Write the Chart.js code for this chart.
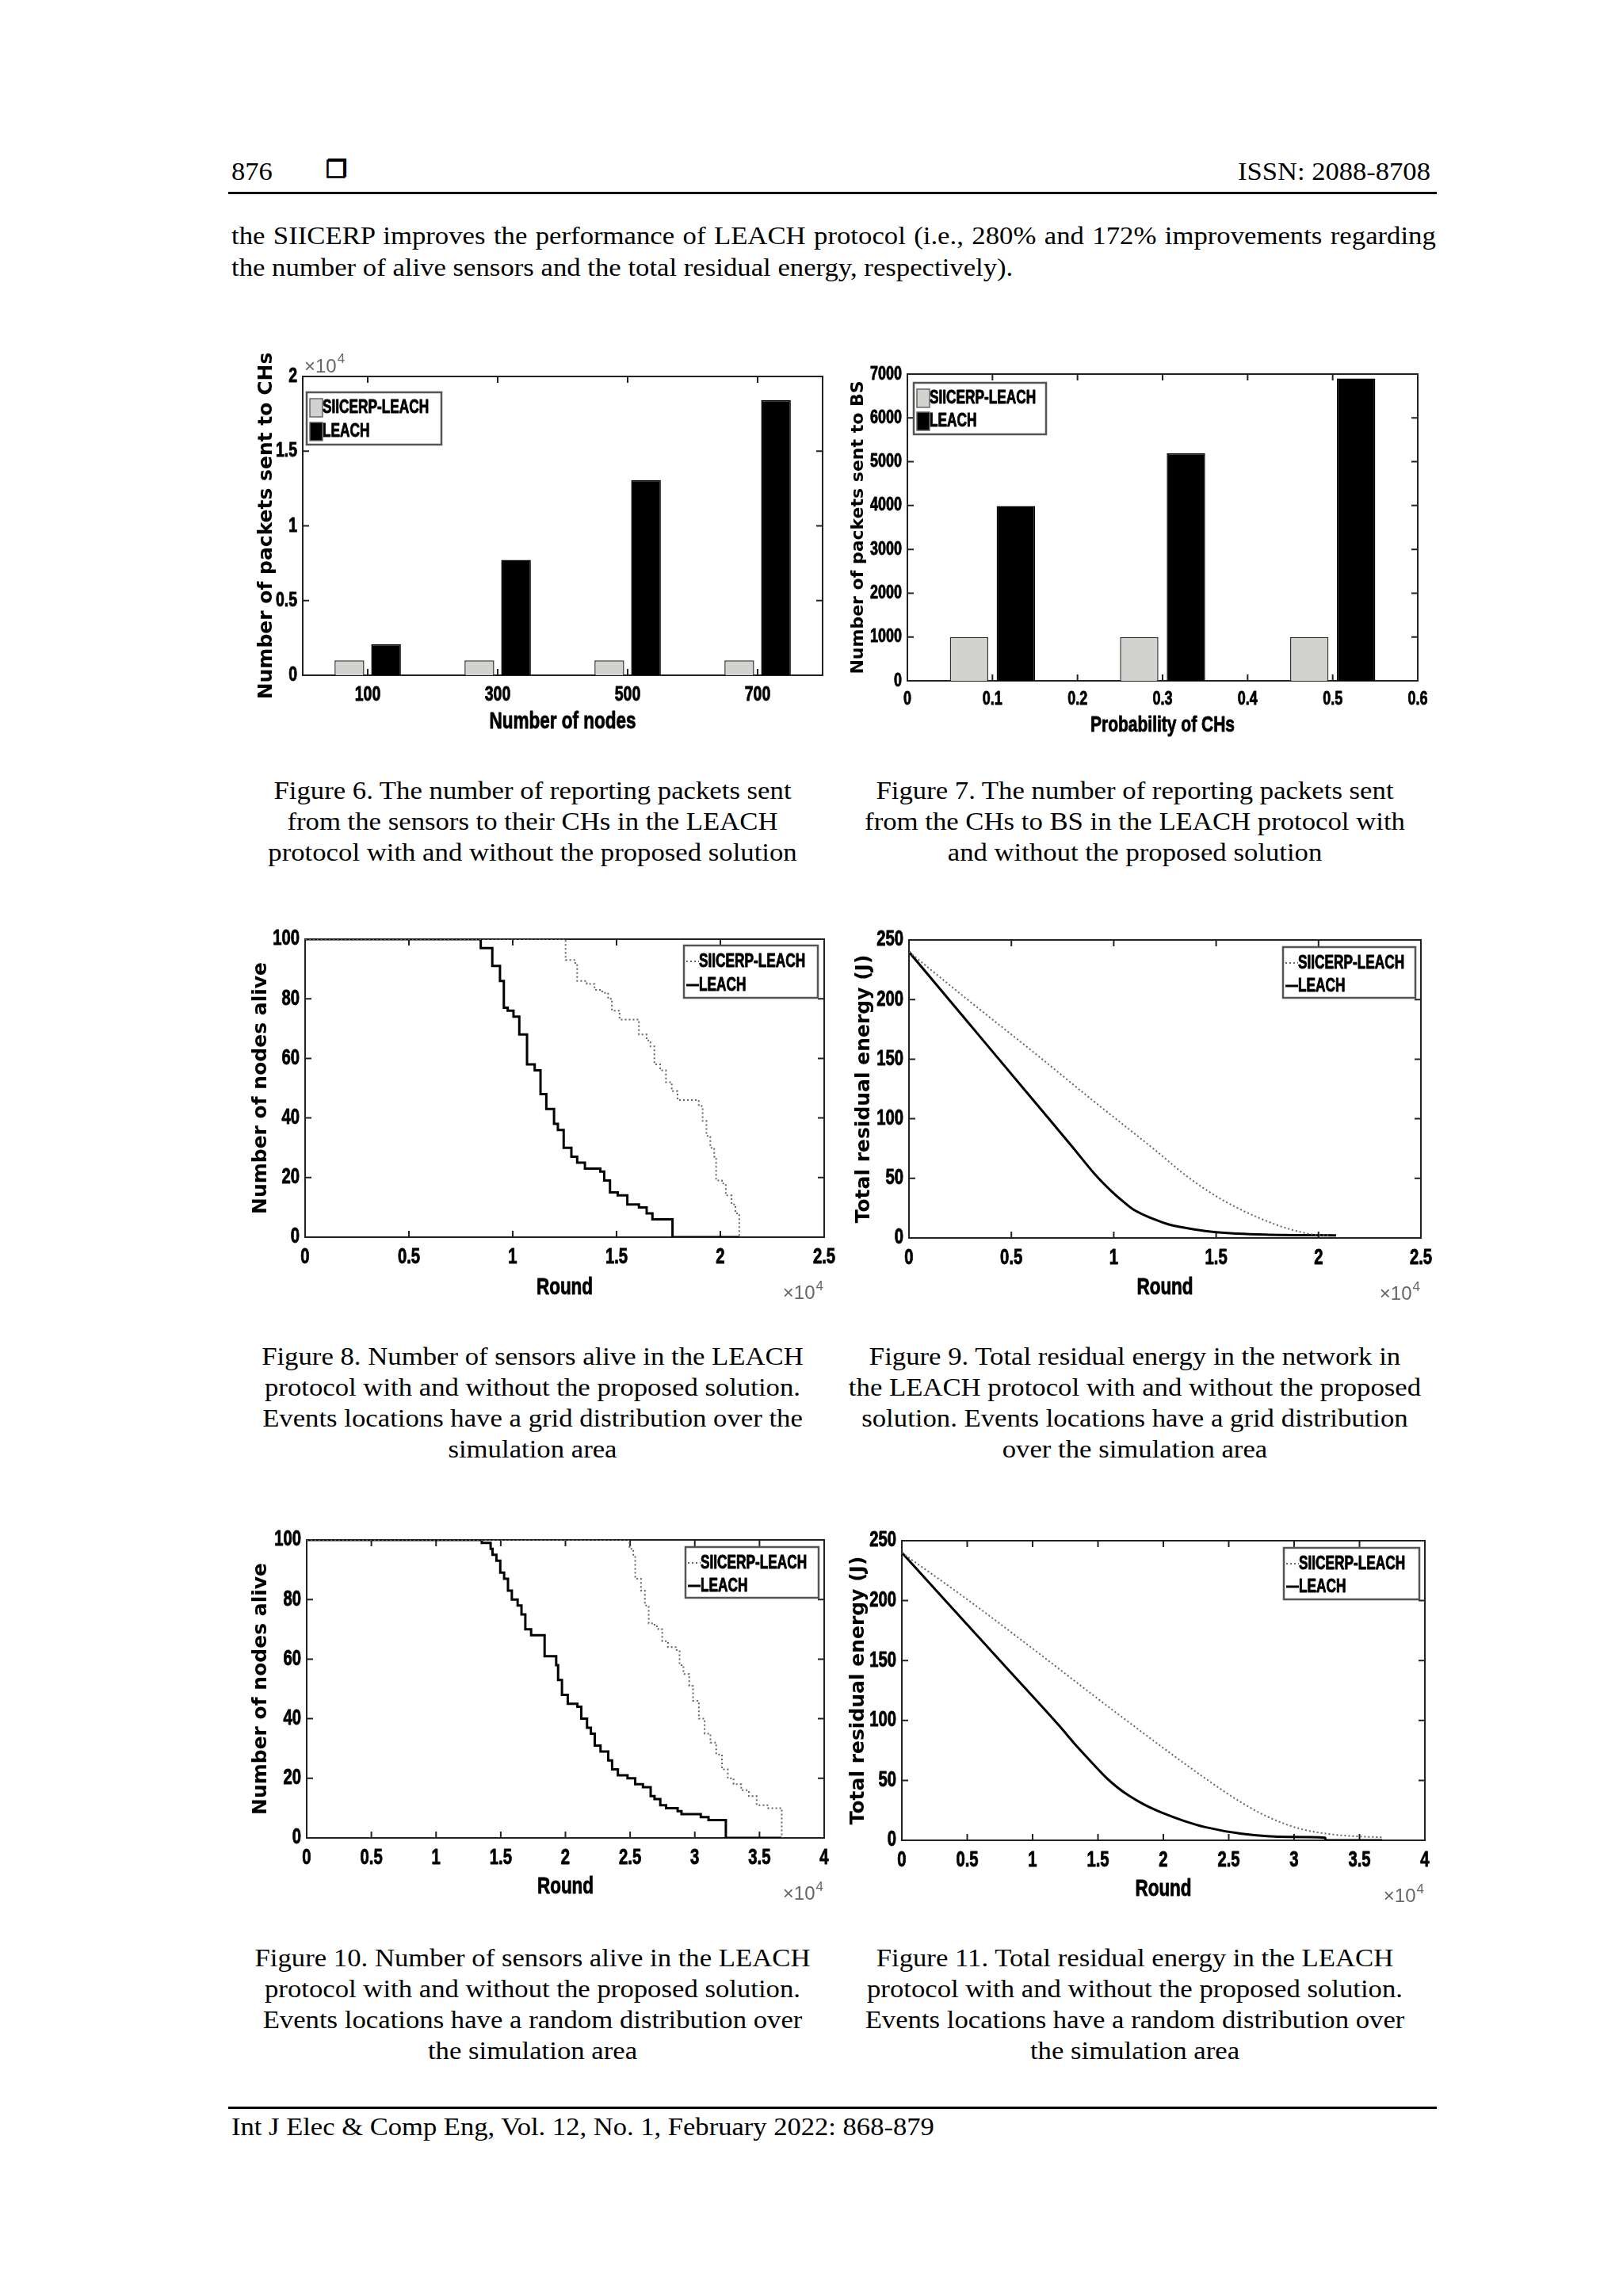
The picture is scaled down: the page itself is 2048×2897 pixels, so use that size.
<!DOCTYPE html>
<html>
<head>
<meta charset="utf-8">
<script src="https://cdn.jsdelivr.net/npm/chart.js@4.4.0/dist/chart.umd.min.js"></script>
<style>
  html, body { margin: 0; padding: 0; background: #fff; }
  body {
    width: 2048px; height: 2897px; position: relative; overflow: hidden;
    font-family: 'Liberation Serif', 'Times New Roman', serif; color: #000;
  }
  .t    { position: absolute; font-size: 32px; line-height: 32px; white-space: nowrap; }
  .hl   { transform: scaleX(1.08); transform-origin: left top; }
  .hr   { transform: scaleX(1.08); transform-origin: right top; }
  .par  { position: absolute; left: 292px; width: 1357px; font-size: 31px; line-height: 40px;
          white-space: nowrap; transform: scaleX(1.12); transform-origin: left top; }
  .just { text-align: justify; text-align-last: justify; }
  .cap  { position: absolute; width: 780px; text-align: center; font-size: 31px; line-height: 39px;
          white-space: nowrap; transform: scaleX(1.12); transform-origin: center top; }
  .rule { position: absolute; left: 288px; width: 1525px; height: 3px; background: #000; }
  .plot { position: absolute; }
  .sq   { font-family: 'DejaVu Sans', sans-serif; font-size: 30px; -webkit-text-stroke: 1.3px #000; }
</style>
</head>
<body>

<div class="t hl" style="left:292px; top:200px;">876</div>
<div class="t sq" style="left:411px; top:198px;">❐</div>
<div class="t hr" style="right:243px; top:200px;">ISSN: 2088-8708</div>
<div class="rule" style="top:242px;"></div>

<div class="par just" style="top:278px;">the SIICERP improves the performance of LEACH protocol (i.e., 280% and 172% improvements regarding</div>
<div class="par" style="top:318px;">the number of alive sensors and the total residual energy, respectively).</div>

<div class="plot" id="w6"><canvas id="fig6"></canvas></div>
<div class="plot" id="w7"><canvas id="fig7"></canvas></div>
<div class="plot" id="w8"><canvas id="fig8"></canvas></div>
<div class="plot" id="w9"><canvas id="fig9"></canvas></div>
<div class="plot" id="w10"><canvas id="fig10"></canvas></div>
<div class="plot" id="w11"><canvas id="fig11"></canvas></div>

<div class="cap" style="left:282px; top:978px;">Figure 6. The number of reporting packets sent<br>from the sensors to their CHs in the LEACH<br>protocol with and without the proposed solution</div>
<div class="cap" style="left:1042px; top:978px;">Figure 7. The number of reporting packets sent<br>from the CHs to BS in the LEACH protocol with<br>and without the proposed solution</div>

<div class="cap" style="left:282px; top:1692px;">Figure 8. Number of sensors alive in the LEACH<br>protocol with and without the proposed solution.<br>Events locations have a grid distribution over the<br>simulation area</div>
<div class="cap" style="left:1042px; top:1692px;">Figure 9. Total residual energy in the network in<br>the LEACH protocol with and without the proposed<br>solution. Events locations have a grid distribution<br>over the simulation area</div>

<div class="cap" style="left:282px; top:2451px;">Figure 10. Number of sensors alive in the LEACH<br>protocol with and without the proposed solution.<br>Events locations have a random distribution over<br>the simulation area</div>
<div class="cap" style="left:1042px; top:2451px;">Figure 11. Total residual energy in the LEACH<br>protocol with and without the proposed solution.<br>Events locations have a random distribution over<br>the simulation area</div>

<div class="rule" style="top:2658px;"></div>
<div class="t" style="left:292px; top:2668px; font-size:31px; line-height:31px; transform:scaleX(1.115); transform-origin:left top;">Int J Elec &amp; Comp Eng, Vol. 12, No. 1, February 2022: 868-879</div>

<script>
/* ================================================
   DATA
================================================ */

// Fig 6 - packets sent to CHs vs number of nodes
const NODE_COUNTS      = ['100', '300', '500', '700'];
const CH_PKTS_SIICERP  = [1000, 1000, 1000, 1000];
const CH_PKTS_LEACH    = [2070, 7720, 13060, 18410];

// Fig 7 - packets sent to BS vs probability of CHs
const CH_PROBS         = [0.1, 0.3, 0.5];
const BS_PKTS_SIICERP  = [1000, 1000, 1000];
const BS_PKTS_LEACH    = [3990, 5190, 6900];

// Fig 8 - nodes alive, grid events
const GRID_ALIVE_SIICERP_R = [0, 12267, 12546, 13011, 13104, 13568, 13940, 14312, 14591, 14777, 15148, 15892, 16078, 16450, 16636, 16821, 17100, 17379, 17658, 17937, 18680, 18959, 19145, 19330, 19516, 19702, 19795, 20074, 20260, 20539, 20725, 20910, 20910];
const GRID_ALIVE_SIICERP   = [100, 100, 93, 92, 86, 85, 83, 82, 80, 76, 73, 73, 68, 66, 64, 58, 56, 52, 49, 46, 46, 44, 39, 34, 30, 27, 19, 18, 14, 11, 8, 6, 0];
const GRID_ALIVE_LEACH_R   = [0, 8090, 8460, 9015, 9386, 9572, 9758, 10037, 10316, 10688, 11059, 11338, 11617, 11989, 12174, 12453, 12825, 13104, 13476, 14219, 14405, 14684, 15056, 15520, 16078, 16450, 16728, 17695, 20910];
const GRID_ALIVE_LEACH     = [100, 100, 97, 91, 86, 77, 76, 74, 68, 58, 56, 48, 43, 38, 36, 30, 27, 25, 23, 22, 19, 15, 14, 11, 10, 8, 6, 0, 0];

// Fig 9 - residual energy, grid events
const GRID_ENERGY_SIICERP_R = [0, 3000, 6000, 9000, 12000, 13550, 15000, 16060, 17000, 18110, 19000, 19810, 20500];
const GRID_ENERGY_SIICERP   = [240, 198, 157, 115, 74, 52, 35, 25, 17.5, 10, 5.5, 2.7, 2.2];
const GRID_ENERGY_LEACH_R   = [0, 2000, 4000, 6000, 8000, 9100, 9900, 10500, 10950, 12000, 12660, 14000, 14900, 17380, 20860];
const GRID_ENERGY_LEACH     = [240, 199, 158, 117, 76, 53, 39, 30, 24, 15.5, 11.5, 7, 5, 2.8, 2.2];

// Fig 10 - nodes alive, random events
const RAND_ALIVE_SIICERP_R = [0, 24799, 24948, 25246, 25395, 25842, 26140, 26438, 26885, 27183, 27481, 27928, 28525, 28823, 29121, 29568, 29866, 30313, 30760, 31207, 31654, 32101, 32548, 32995, 33591, 34187, 34783, 35677, 36571, 36721, 36721];
const RAND_ALIVE_SIICERP   = [100, 100, 97, 95, 87, 83, 78, 72, 71, 70, 66, 64, 63, 58, 55, 51, 46, 40, 35, 32, 28, 23, 20, 18, 16, 14, 11, 10, 10, 10, 0];
const RAND_ALIVE_LEACH_R   = [0, 13532, 14218, 14367, 14665, 14963, 15261, 15559, 15857, 16304, 16602, 16900, 17347, 18241, 18390, 18987, 19285, 19434, 19732, 20179, 20924, 21222, 21670, 21968, 22266, 22713, 23309, 23607, 24054, 24799, 25395, 25991, 26587, 26885, 27332, 27779, 28226, 28673, 28971, 30163, 30461, 31057, 32399, 36721];
const RAND_ALIVE_LEACH     = [100, 99, 97, 95, 93, 89, 87, 83, 80, 78, 75, 70, 68, 68, 61, 61, 58, 53, 48, 45, 44, 40, 37, 35, 31, 29, 26, 23, 21, 20, 18, 17, 14, 13, 11, 10, 10, 9, 8, 8, 7, 6, 0, 0];

// Fig 11 - residual energy, random events
const RAND_ENERGY_SIICERP_R = [0, 5000, 10000, 15000, 20000, 23030, 25900, 28000, 30500, 33000, 35000, 36720];
const RAND_ENERGY_SIICERP   = [240, 201, 160, 118, 77, 53, 32, 19.5, 9.5, 4.8, 3.2, 2.5];
const RAND_ENERGY_LEACH_R   = [0, 4000, 8000, 12000, 13500, 14600, 15656, 16500, 17400, 18500, 20000, 21500, 23200, 26000, 29600, 32380, 32420, 36720];
const RAND_ENERGY_LEACH     = [240, 192, 144, 96, 77, 64, 52, 44, 37, 30, 22.5, 16.5, 11, 5.5, 2.8, 2.2, 0, 0];

const SERIES_LABELS = ['SIICERP-LEACH', 'LEACH'];

/* ================================================
   LAYOUT / STYLE
================================================ */

const ML = 100, MR = 40, MT = 40, MB = 100;

const NARROW = "'Liberation Sans', Arial, sans-serif";
const WIDE   = "'DejaVu Sans', Verdana, sans-serif";
const NARROW_RATIO = 0.75;
const FRAME  = '#222';
const SIIC_FILL = '#d2d2ce';

/* no narrow face is installed and Chart.js has no font-stretch option,
   so bold Liberation Sans labels get squeezed through fillText's maxWidth
   (and a thin stroke to get the heavy look of the scanned figure) */
const nativeFillText = CanvasRenderingContext2D.prototype.fillText;
CanvasRenderingContext2D.prototype.fillText = function (text, x, y, maxWidth) {
  const f = this.font;
  if (f.indexOf('Liberation Sans') !== -1 && /bold|700/.test(f)) {
    const squeezed = this.measureText(text).width * NARROW_RATIO;
    const mw = maxWidth === undefined ? squeezed : Math.min(maxWidth, squeezed);
    this.save();
    this.lineWidth = 0.9;
    this.lineJoin = 'round';
    this.strokeStyle = this.fillStyle;
    this.strokeText(text, x, y, mw);
    this.restore();
    return nativeFillText.call(this, text, x, y, mw);
  }
  if (maxWidth === undefined) return nativeFillText.call(this, text, x, y);
  return nativeFillText.call(this, text, x, y, maxWidth);
};

function pts(xs, ys) {
  return xs.map((x, i) => ({ x, y: ys[i] }));
}

function place(wrapId, p) {
  const w = document.getElementById(wrapId);
  w.style.left   = (p.x - ML) + 'px';
  w.style.top    = (p.y - MT) + 'px';
  w.style.width  = (p.w + ML + MR) + 'px';
  w.style.height = (p.h + MT + MB) + 'px';
}

/* ================================================
   MATLAB-STYLE BOX, INWARD TICKS, LEGEND, EXPONENT
================================================ */

const matlabBox = {
  id: 'matlabBox',
  beforeDatasetsDraw(chart) {
    const { ctx, chartArea: a, scales: { x, y } } = chart;
    const tl = 8;
    ctx.save();
    ctx.strokeStyle = FRAME;
    ctx.lineWidth = 2;
    ctx.strokeRect(a.left, a.top, a.width, a.height);
    ctx.beginPath();
    x.ticks.forEach((t, i) => {
      const px = x.getPixelForTick(i);
      ctx.moveTo(px, a.bottom); ctx.lineTo(px, a.bottom - tl);
      ctx.moveTo(px, a.top);    ctx.lineTo(px, a.top + tl);
    });
    y.ticks.forEach((t, i) => {
      const py = y.getPixelForTick(i);
      ctx.moveTo(a.left, py);  ctx.lineTo(a.left + tl, py);
      ctx.moveTo(a.right, py); ctx.lineTo(a.right - tl, py);
    });
    ctx.stroke();
    ctx.restore();
  },
  afterDatasetsDraw(chart, args, opts) {
    const { ctx, chartArea: a } = chart;
    ctx.save();

    /* legend box */
    const lg = opts.legend;
    if (lg) {
      const bx = lg.right != null ? a.right - lg.right - lg.w : a.left + lg.left;
      const by = a.top + lg.top;
      ctx.fillStyle = '#fff';
      ctx.fillRect(bx, by, lg.w, lg.h);
      ctx.strokeStyle = '#555';
      ctx.lineWidth = 2.5;
      ctx.strokeRect(bx, by, lg.w, lg.h);
      ctx.font = 'bold 23px ' + NARROW;
      ctx.textBaseline = 'middle';
      ctx.textAlign = 'left';
      chart.data.datasets.forEach((ds, i) => {
        const cy = by + lg.rows[i];
        if (lg.kind === 'bar') {
          ctx.fillStyle = ds.backgroundColor;
          ctx.fillRect(bx + 4, cy - 11, 16, 23);
          ctx.strokeStyle = '#666';
          ctx.lineWidth = 1.5;
          ctx.strokeRect(bx + 4, cy - 11, 16, 23);
          ctx.fillStyle = '#000';
          ctx.fillText(ds.label, bx + 20, cy + 1);
        } else {
          ctx.strokeStyle = ds.borderColor;
          ctx.lineWidth = ds.borderWidth;
          ctx.setLineDash(ds.borderDash || []);
          ctx.beginPath();
          ctx.moveTo(bx + 3, cy); ctx.lineTo(bx + 19, cy);
          ctx.stroke();
          ctx.setLineDash([]);
          ctx.fillStyle = '#000';
          ctx.fillText(ds.label, bx + 19, cy + 1);
        }
      });
    }

    /* x10^4 exponent label */
    if (opts.exp) {
      const big = "24px 'Liberation Sans', sans-serif";
      const sup = "17px 'Liberation Sans', sans-serif";
      ctx.fillStyle = '#666';
      ctx.textBaseline = 'alphabetic';
      if (opts.exp === 'tl') {
        ctx.textAlign = 'left';
        ctx.font = big;
        ctx.fillText('×10', a.left + 2, a.top - 5);
        const w = ctx.measureText('×10').width;
        ctx.font = sup;
        ctx.fillText('4', a.left + 3 + w, a.top - 17);
      } else {
        ctx.textAlign = 'right';
        ctx.font = sup;
        ctx.fillText('4', a.right - 1, a.bottom + 67);
        const w = ctx.measureText('4').width;
        ctx.font = big;
        ctx.fillText('×10', a.right - 2 - w, a.bottom + 78);
      }
    }
    ctx.restore();
  }
};

/* ================================================
   AXIS BUILDERS
================================================ */

function yAxis(o) {
  return {
    type: 'linear',
    min: o.min, max: o.max,
    grid:   { display: false, drawTicks: false },
    border: { display: false },
    ticks: {
      stepSize: o.step, color: '#000', padding: 7, autoSkip: false,
      font: { family: NARROW, weight: 'bold', size: o.tickSize || 27 },
      callback: o.fmt,
    },
    title: {
      display: true, text: o.title, color: '#000',
      font: { family: WIDE, weight: 'bold', size: o.titleSize },
      padding: { top: ML - o.titleDist - o.titleSize * 0.6, bottom: 0 },
    },
    afterFit(s) { s.width = ML; },
  };
}

function xAxis(o) {
  const ts = o.titleSize || 30;
  const ax = {
    type: o.type || 'linear',
    offset: !!o.offset,
    grid:   { display: false, drawTicks: false, offset: !!o.offset },
    border: { display: false },
    ticks: {
      color: '#000', padding: 9, autoSkip: false, maxRotation: 0,
      font: { family: NARROW, weight: 'bold', size: o.tickSize || 27 },
    },
    title: {
      display: true, text: o.title, color: '#000',
      font: { family: NARROW, weight: 'bold', size: ts },
      padding: { top: 0, bottom: MB - o.titleDist - ts * 0.6 },
    },
    afterFit(s) { s.height = MB; },
  };
  if (ax.type === 'linear') {
    ax.min = o.min; ax.max = o.max;
    ax.ticks.stepSize = o.step;
    ax.ticks.callback = o.fmt;
  }
  return ax;
}

function baseOptions(xs, ys, boxOpts) {
  return {
    responsive: true,
    maintainAspectRatio: false,
    animation: false,
    layout: { padding: { left: 0, top: MT, right: MR, bottom: 0 } },
    plugins: {
      legend:  { display: false },
      tooltip: { enabled: false },
      matlabBox: boxOpts,
    },
    scales: { x: xs, y: ys },
  };
}

const fmtRound = v => String(v / 10000);

function lineSets(siicerp, leach, stepped) {
  const common = { pointRadius: 0, fill: false, stepped };
  if (!stepped) common.cubicInterpolationMode = 'monotone';
  return [
    Object.assign({ label: SERIES_LABELS[0], data: siicerp, borderColor: '#666', borderWidth: 2, borderDash: [2, 3] }, common),
    Object.assign({ label: SERIES_LABELS[1], data: leach, borderColor: '#000', borderWidth: 3 }, common),
  ];
}

/* ================================================
   PLOT BOXES (page pixels of each axes area)
================================================ */

const PLOTS = {
  fig6:  { x: 382,  y: 475,  w: 656, h: 377 },
  fig7:  { x: 1145, y: 472,  w: 644, h: 387 },
  fig8:  { x: 385,  y: 1185, w: 655, h: 376 },
  fig9:  { x: 1147, y: 1186, w: 646, h: 376 },
  fig10: { x: 387,  y: 1943, w: 653, h: 376 },
  fig11: { x: 1138, y: 1944, w: 660, h: 378 },
};

/* ================================================
   FIGURE 6
================================================ */

place('w6', PLOTS.fig6);
new Chart(document.getElementById('fig6').getContext('2d'), {
  type: 'bar',
  data: {
    labels: NODE_COUNTS,
    datasets: [
      { label: SERIES_LABELS[0], data: CH_PKTS_SIICERP, backgroundColor: SIIC_FILL, borderColor: '#333', borderWidth: 1.5, categoryPercentage: 0.564, barPercentage: 0.81 },
      { label: SERIES_LABELS[1], data: CH_PKTS_LEACH,   backgroundColor: '#000',    borderColor: '#000', borderWidth: 1.5, categoryPercentage: 0.564, barPercentage: 0.81 },
    ],
  },
  options: baseOptions(
    xAxis({ type: 'category', offset: true, tickSize: 26, title: 'Number of nodes', titleDist: 59 }),
    yAxis({ min: 0, max: 20000, step: 5000, fmt: fmtRound, tickSize: 26, title: 'Number of packets sent to CHs', titleSize: 25, titleDist: 46 }),
    { legend: { left: 5, top: 20, w: 170, h: 66, rows: [19, 49], kind: 'bar' }, exp: 'tl' }
  ),
  plugins: [matlabBox],
});

/* ================================================
   FIGURE 7
================================================ */

place('w7', PLOTS.fig7);
new Chart(document.getElementById('fig7').getContext('2d'), {
  type: 'bar',
  data: {
    datasets: [
      { label: SERIES_LABELS[0], data: pts(CH_PROBS, BS_PKTS_SIICERP), backgroundColor: SIIC_FILL, borderColor: '#333', borderWidth: 1.5, categoryPercentage: 1.1, barPercentage: 0.82 },
      { label: SERIES_LABELS[1], data: pts(CH_PROBS, BS_PKTS_LEACH),   backgroundColor: '#000',    borderColor: '#000', borderWidth: 1.5, categoryPercentage: 1.1, barPercentage: 0.82 },
    ],
  },
  options: baseOptions(
    xAxis({ min: 0, max: 0.6, step: 0.1, fmt: v => (v === 0 ? '0' : v.toFixed(1)), tickSize: 24, title: 'Probability of CHs', titleSize: 28, titleDist: 56 }),
    yAxis({ min: 0, max: 7000, step: 1000, tickSize: 24, title: 'Number of packets sent to BS', titleSize: 22, titleDist: 62 }),
    { legend: { left: 8, top: 11, w: 167, h: 65, rows: [19, 48], kind: 'bar' } }
  ),
  plugins: [matlabBox],
});

/* ================================================
   FIGURE 8
================================================ */

place('w8', PLOTS.fig8);
new Chart(document.getElementById('fig8').getContext('2d'), {
  type: 'line',
  data: {
    datasets: lineSets(pts(GRID_ALIVE_SIICERP_R, GRID_ALIVE_SIICERP), pts(GRID_ALIVE_LEACH_R, GRID_ALIVE_LEACH), true),
  },
  options: baseOptions(
    xAxis({ min: 0, max: 25000, step: 5000, fmt: fmtRound, title: 'Round', titleDist: 64 }),
    yAxis({ min: 0, max: 100, step: 20, title: 'Number of nodes alive', titleSize: 25, titleDist: 56 }),
    { legend: { right: 8, top: 8, w: 169, h: 66, rows: [20, 50], kind: 'line' }, exp: 'br' }
  ),
  plugins: [matlabBox],
});

/* ================================================
   FIGURE 9
================================================ */

place('w9', PLOTS.fig9);
new Chart(document.getElementById('fig9').getContext('2d'), {
  type: 'line',
  data: {
    datasets: lineSets(pts(GRID_ENERGY_SIICERP_R, GRID_ENERGY_SIICERP), pts(GRID_ENERGY_LEACH_R, GRID_ENERGY_LEACH), false),
  },
  options: baseOptions(
    xAxis({ min: 0, max: 25000, step: 5000, fmt: fmtRound, title: 'Round', titleDist: 63 }),
    yAxis({ min: 0, max: 250, step: 50, title: 'Total residual energy (J)', titleSize: 25, titleDist: 57 }),
    { legend: { right: 7, top: 9, w: 167, h: 64, rows: [20, 49], kind: 'line' }, exp: 'br' }
  ),
  plugins: [matlabBox],
});

/* ================================================
   FIGURE 10
================================================ */

place('w10', PLOTS.fig10);
new Chart(document.getElementById('fig10').getContext('2d'), {
  type: 'line',
  data: {
    datasets: lineSets(pts(RAND_ALIVE_SIICERP_R, RAND_ALIVE_SIICERP), pts(RAND_ALIVE_LEACH_R, RAND_ALIVE_LEACH), true),
  },
  options: baseOptions(
    xAxis({ min: 0, max: 40000, step: 5000, fmt: fmtRound, title: 'Round', titleDist: 62 }),
    yAxis({ min: 0, max: 100, step: 20, title: 'Number of nodes alive', titleSize: 25, titleDist: 58 }),
    { legend: { right: 7, top: 9, w: 168, h: 64, rows: [20, 49], kind: 'line' }, exp: 'br' }
  ),
  plugins: [matlabBox],
});

/* ================================================
   FIGURE 11
================================================ */

place('w11', PLOTS.fig11);
new Chart(document.getElementById('fig11').getContext('2d'), {
  type: 'line',
  data: {
    datasets: lineSets(pts(RAND_ENERGY_SIICERP_R, RAND_ENERGY_SIICERP), pts(RAND_ENERGY_LEACH_R, RAND_ENERGY_LEACH), false),
  },
  options: baseOptions(
    xAxis({ min: 0, max: 40000, step: 5000, fmt: fmtRound, title: 'Round', titleDist: 62 }),
    yAxis({ min: 0, max: 250, step: 50, title: 'Total residual energy (J)', titleSize: 25, titleDist: 55 }),
    { legend: { right: 7, top: 9, w: 171, h: 65, rows: [20, 49], kind: 'line' }, exp: 'br' }
  ),
  plugins: [matlabBox],
});
</script>
</body>
</html>
